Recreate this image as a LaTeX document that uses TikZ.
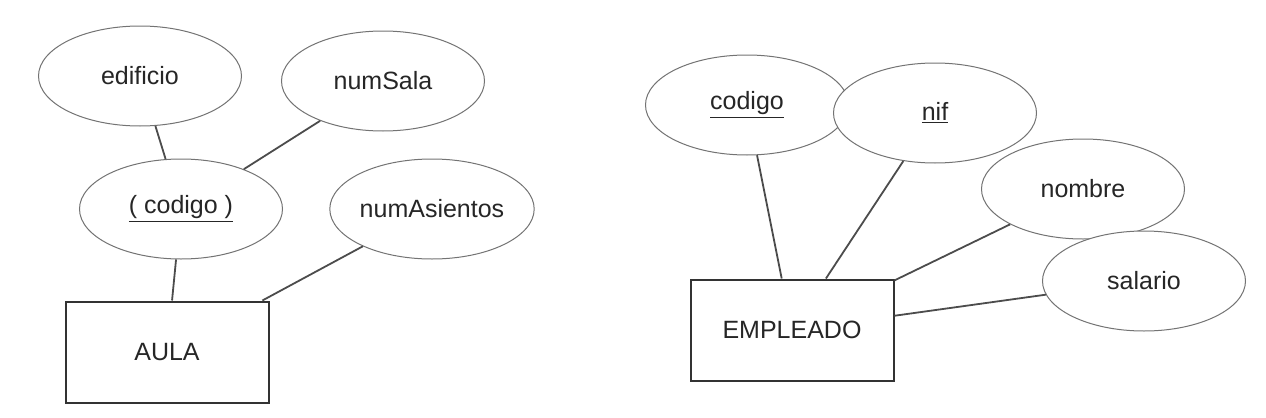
\documentclass[tikz,border=0pt]{standalone}
\usepackage{fontspec}
\setmainfont{Liberation Sans}
\usetikzlibrary{shapes.geometric}
\tikzset{
  atributo/.style={ellipse, draw=black!55, line width=0.5pt, fill=white,
    minimum width=101.5pt, minimum height=50pt, inner sep=0pt, text=black!85},
  entidad/.style={rectangle, draw=black!80, line width=1pt, fill=white,
    minimum width=101.5pt, minimum height=50.5pt, inner sep=0pt, text=black!85},
  enlace/.style={draw=black!70, line width=0.9pt}
}
\newcommand{\clave}[1]{\underline{#1}}
\begin{document}
\begin{tikzpicture}[x=0.5pt,y=-0.5pt,font=\fontsize{12.5}{15}\selectfont]
                    \useasboundingbox (0,0) rectangle (1266,418);
                    % AULA
                    \node [atributo] (edificio) at (140,76) {edificio};
                    \node [atributo] (numSala) at (383,81) {numSala};
                    \node [atributo] (codigoA) at (181,209) {\clave{( codigo )}};
                    \node [atributo] (numAsientos) at (432,209) {numAsientos};
                    \node [entidad] (aula) at (167,352) {AULA};
                    \draw [enlace] (edificio)--(codigoA);
                    \draw [enlace] (numSala)--(codigoA);
                    \draw [enlace] (codigoA)--(aula);
                    \draw [enlace] (numAsientos)--(aula);
                    % EMPLEADO
                    \node [atributo] (codigoE) at (747,105) {\clave{codigo}};
                    \node [atributo] (nif) at (935,113) {\clave{nif}};
                    \node [atributo] (nombre) at (1083,189) {nombre};
                    \node [atributo] (salario) at (1144,281) {salario};
                    \node [entidad] (empleado) at (792,330) {EMPLEADO};
                    \draw [enlace] (codigoE)--(empleado);
                    \draw [enlace] (nif)--(empleado);
                    \draw [enlace] (nombre)--(empleado);
                    \draw [enlace] (salario)--(empleado);
                \end{tikzpicture}
\end{document}
